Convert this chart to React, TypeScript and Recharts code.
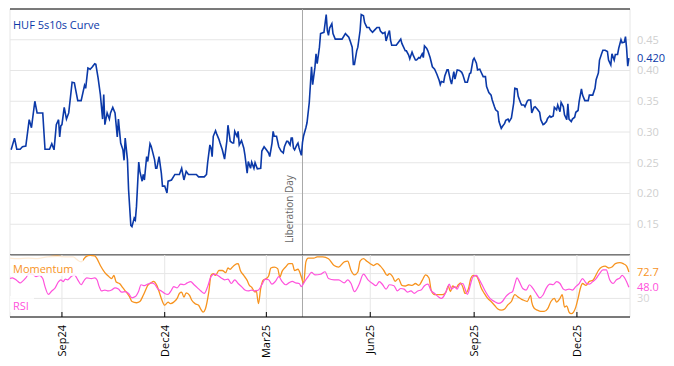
import React from 'react';
import { LineChart, Line, XAxis, YAxis, CartesianGrid, ReferenceLine } from 'recharts';

// day 0 of the series
const START = '2024-07-17';
const tickDates = ['2024-09-01', '2024-12-01', '2025-03-01', '2025-06-01', '2025-09-01', '2025-12-01'];
const tickLabels = ['Sep24', 'Dec24', 'Mar25', 'Jun25', 'Sep25', 'Dec25'];
const eventDate = '2025-04-02';
const eventLabel = 'Liberation Day';
const curveTicks = [0.15, 0.2, 0.25, 0.3, 0.35, 0.4, 0.45];
const oscTicks = [30, 70];

// [day, value]
const curve: [number, number][] = [
  [1, 0.271], [4, 0.29], [6, 0.272], [9, 0.272], [11, 0.276], [14, 0.277], [17, 0.32], [19, 0.307], [22, 0.35], [24, 0.331],
  [29, 0.331], [31, 0.272], [35, 0.272], [37, 0.281], [39, 0.271], [41, 0.312], [43, 0.32], [44, 0.292], [45, 0.31], [46, 0.312],
  [48, 0.34], [50, 0.321], [52, 0.331], [55, 0.381], [57, 0.38], [58, 0.37], [60, 0.351], [63, 0.351], [66, 0.376], [67, 0.371],
  [69, 0.404], [71, 0.402], [73, 0.406], [75, 0.411], [76, 0.41], [78, 0.388], [80, 0.361], [82, 0.321], [83, 0.361], [84, 0.312],
  [86, 0.331], [88, 0.321], [89, 0.331], [91, 0.34], [93, 0.331], [95, 0.292], [96, 0.321], [98, 0.282], [100, 0.271], [101, 0.254],
  [102, 0.29], [104, 0.255], [105, 0.206], [107, 0.148], [108, 0.146], [110, 0.16], [111, 0.157], [112, 0.179], [114, 0.251], [115, 0.236],
  [117, 0.22], [118, 0.231], [119, 0.222], [121, 0.26], [122, 0.252], [124, 0.281], [125, 0.277], [128, 0.255], [129, 0.241], [130, 0.241],
  [132, 0.26], [134, 0.233], [135, 0.212], [137, 0.212], [139, 0.201], [140, 0.22], [143, 0.222], [146, 0.231], [150, 0.231], [152, 0.241],
  [154, 0.222], [156, 0.236], [158, 0.231], [161, 0.231], [165, 0.231], [167, 0.227], [172, 0.227], [174, 0.231], [175, 0.25], [177, 0.279],
  [178, 0.274], [179, 0.26], [180, 0.293], [182, 0.302], [183, 0.297], [185, 0.288], [186, 0.282], [188, 0.271], [190, 0.256], [192, 0.285],
  [193, 0.311], [195, 0.285], [197, 0.282], [198, 0.282], [199, 0.301], [201, 0.293], [202, 0.301], [203, 0.279], [205, 0.286], [207, 0.274],
  [208, 0.263], [210, 0.233], [211, 0.252], [213, 0.241], [214, 0.251], [216, 0.241], [217, 0.25], [219, 0.24], [222, 0.241], [223, 0.269],
  [225, 0.276], [227, 0.271], [229, 0.266], [230, 0.26], [232, 0.282], [233, 0.301], [234, 0.293], [236, 0.293], [238, 0.276], [240, 0.269],
  [242, 0.266], [243, 0.276], [245, 0.285], [246, 0.285], [248, 0.279], [249, 0.29], [250, 0.29], [251, 0.274], [252, 0.271], [254, 0.279],
  [255, 0.282], [256, 0.274], [258, 0.262], [259, 0.283], [260, 0.294], [262, 0.307], [263, 0.315], [265, 0.348], [267, 0.406], [268, 0.377],
  [270, 0.405], [271, 0.427], [272, 0.411], [274, 0.438], [275, 0.46], [278, 0.462], [280, 0.491], [281, 0.465], [282, 0.457], [283, 0.469],
  [285, 0.476], [286, 0.46], [288, 0.451], [291, 0.451], [294, 0.451], [297, 0.46], [300, 0.454], [301, 0.449], [303, 0.438], [304, 0.41],
  [305, 0.41], [307, 0.432], [308, 0.438], [310, 0.465], [311, 0.491], [313, 0.489], [314, 0.478], [316, 0.47], [318, 0.47], [319, 0.466],
  [321, 0.462], [323, 0.466], [325, 0.47], [327, 0.47], [328, 0.464], [330, 0.46], [332, 0.462], [333, 0.448], [335, 0.46], [336, 0.465],
  [337, 0.449], [338, 0.441], [340, 0.441], [342, 0.441], [344, 0.446], [346, 0.451], [347, 0.444], [348, 0.44], [350, 0.432], [351, 0.432],
  [353, 0.425], [354, 0.419], [356, 0.43], [357, 0.425], [359, 0.417], [360, 0.417], [362, 0.421], [363, 0.42], [365, 0.427], [366, 0.421],
  [367, 0.44], [369, 0.436], [370, 0.432], [372, 0.421], [374, 0.406], [376, 0.402], [378, 0.394], [380, 0.384], [381, 0.377], [382, 0.382],
  [384, 0.381], [385, 0.391], [387, 0.401], [388, 0.401], [390, 0.384], [391, 0.378], [393, 0.398], [394, 0.386], [396, 0.401], [398, 0.4],
  [400, 0.397], [401, 0.393], [403, 0.381], [405, 0.381], [407, 0.395], [408, 0.396], [410, 0.417], [411, 0.42], [413, 0.412], [414, 0.401],
  [416, 0.402], [417, 0.398], [419, 0.39], [421, 0.39], [422, 0.374], [424, 0.364], [426, 0.36], [427, 0.352], [429, 0.341], [430, 0.336],
  [432, 0.333], [433, 0.317], [435, 0.306], [436, 0.309], [438, 0.314], [439, 0.319], [441, 0.321], [442, 0.317], [444, 0.323], [446, 0.347],
  [447, 0.371], [449, 0.37], [450, 0.358], [452, 0.348], [453, 0.344], [455, 0.344], [456, 0.341], [458, 0.35], [459, 0.352], [461, 0.352],
  [462, 0.331], [464, 0.34], [465, 0.341], [467, 0.337], [469, 0.332], [470, 0.32], [472, 0.312], [473, 0.313], [475, 0.317], [476, 0.322],
  [478, 0.326], [479, 0.324], [481, 0.326], [482, 0.34], [484, 0.336], [485, 0.344], [487, 0.333], [488, 0.348], [490, 0.341], [491, 0.328],
  [493, 0.32], [494, 0.346], [495, 0.321], [497, 0.317], [498, 0.321], [500, 0.324], [501, 0.332], [503, 0.335], [504, 0.35], [506, 0.37],
  [507, 0.36], [509, 0.351], [510, 0.351], [512, 0.351], [513, 0.36], [515, 0.36], [516, 0.36], [518, 0.371], [519, 0.385], [521, 0.396],
  [522, 0.417], [524, 0.428], [525, 0.433], [527, 0.433], [529, 0.431], [530, 0.417], [532, 0.409], [533, 0.427], [535, 0.417], [536, 0.426],
  [538, 0.426], [539, 0.436], [541, 0.45], [542, 0.445], [544, 0.446], [545, 0.455], [546, 0.436], [547, 0.407], [548, 0.42],
];

const momentum: [number, number][] = [
  [0, 95], [7, 94], [16, 95], [24, 94], [33, 97], [42, 98], [50, 97], [56, 97], [59, 93], [63, 89], [67, 97], [71, 99.5], [75, 98.4],
  [77, 94], [80, 83], [84, 71.5], [87, 66], [90, 62], [92, 67], [94, 56.5], [97, 54], [100, 47], [103, 40], [106, 32], [108, 25],
  [112, 23], [115, 25], [118, 35], [120, 43], [122, 51], [125, 55], [127, 57.5], [130, 51], [132, 41], [134, 30], [137, 19], [140, 24],
  [142, 21.5], [145, 24], [148, 30], [150, 38], [152, 40], [154, 32], [156, 39], [159, 35], [161, 27], [164, 21.5], [167, 19], [169, 12.4],
  [171, 8], [173, 13], [176, 40], [178, 67], [180, 70], [182, 67], [185, 75], [188, 75], [191, 71.5], [193, 79], [195, 77], [197, 80.6],
  [199, 84], [202, 86], [204, 75], [207, 67], [210, 59], [212, 51], [214, 48], [217, 40], [218, 43], [220, 21.5], [222, 46], [224, 59],
  [227, 62], [229, 66], [231, 79], [234, 80.6], [237, 78], [239, 64.5], [241, 74], [244, 80.6], [247, 86], [250, 86], [252, 75], [255, 77],
  [258, 64.5], [260, 54], [262, 89], [264, 95], [269, 95], [272, 97], [277, 97], [282, 94], [287, 83], [291, 80.6], [296, 89], [299, 90],
  [302, 75], [305, 68], [308, 72.6], [310, 90], [313, 94], [316, 90], [319, 86], [322, 83], [325, 86], [328, 82], [331, 75], [334, 67],
  [336, 70], [339, 64.5], [341, 57.5], [344, 62], [347, 51], [350, 50], [353, 52], [356, 51], [359, 54], [362, 51], [365, 59], [368, 68],
  [371, 63], [373, 43], [376, 36], [380, 36], [383, 36], [386, 40], [388, 50], [390, 41], [392, 50], [395, 47], [397, 52], [399, 55],
  [401, 48], [403, 38], [406, 46], [408, 62], [410, 67], [413, 66], [415, 59], [417, 48], [420, 38], [423, 30], [426, 25], [429, 19],
  [432, 13], [435, 11], [438, 13], [441, 20], [444, 25], [447, 36], [450, 32], [453, 28.5], [455, 27], [458, 25], [461, 35], [462, 24],
  [464, 14.5], [467, 11], [470, 9], [473, 9], [476, 13], [479, 25], [482, 30], [484, 24], [487, 30], [489, 36], [491, 16], [493, 18],
  [495, 8], [497, 5.4], [499, 8], [501, 16], [503, 30], [505, 46], [507, 54], [510, 51], [513, 57.5], [516, 59], [518, 64.5], [521, 75],
  [524, 80.6], [527, 82], [530, 79], [533, 80.6], [536, 86], [540, 87.6], [543, 86], [546, 82], [548, 72.7],
];

const rsi: [number, number][] = [
  [0, 62], [2, 63], [6, 59], [9, 55], [11, 57.5], [14, 63], [17, 70], [20, 69], [23, 65], [26, 67], [29, 62], [31, 49], [34, 36.5],
  [37, 42], [40, 47], [43, 57], [45, 60], [47, 57], [49, 61], [51, 60], [54, 65], [57, 68], [60, 60], [63, 52], [66, 60], [68, 63],
  [72, 62], [75, 63], [77, 60], [79, 49], [81, 42], [84, 43.5], [87, 42], [90, 43.5], [93, 47], [96, 45], [99, 40], [102, 41], [105, 38],
  [108, 31], [111, 33], [114, 42], [116, 52], [119, 50.5], [122, 53], [125, 55], [128, 53], [131, 45], [134, 42], [137, 38], [140, 36.5],
  [143, 43.5], [145, 49], [148, 47], [151, 53], [154, 52], [157, 55], [160, 57], [163, 52], [166, 47], [169, 42], [172, 38], [175, 49],
  [178, 65], [181, 69], [184, 67], [187, 63], [190, 60], [193, 61], [196, 54], [199, 60], [202, 54], [205, 49], [208, 43.5], [211, 42],
  [214, 43.5], [217, 42], [220, 43.5], [223, 52], [226, 61], [229, 60], [232, 53], [235, 57.5], [238, 65], [241, 57], [244, 52], [247, 55],
  [250, 57.5], [253, 55], [256, 54], [258, 49], [261, 57.5], [264, 65], [267, 72], [270, 68], [275, 69], [279, 73], [282, 62], [287, 60],
  [291, 60], [296, 55], [299, 60], [302, 54], [305, 41], [309, 52], [313, 69], [317, 60], [321, 54], [324, 50.5], [327, 57], [330, 52],
  [333, 45], [336, 52], [340, 50.5], [343, 42], [346, 46], [349, 45], [352, 40], [355, 42], [358, 38], [361, 42], [364, 43.5], [367, 50.5],
  [370, 53], [373, 42], [376, 38], [379, 33], [382, 30], [385, 36.5], [387, 45], [389, 53], [391, 45], [394, 49], [396, 45], [398, 52],
  [401, 54], [403, 45], [405, 36.5], [408, 54], [410, 65], [413, 67], [415, 62], [418, 52], [421, 41], [425, 30], [429, 25], [433, 22],
  [436, 25], [439, 33], [442, 38], [445, 41], [447, 53], [449, 63], [451, 57], [454, 46], [457, 43.5], [460, 52], [463, 46], [466, 38],
  [469, 31], [472, 35.5], [475, 47], [478, 53], [481, 52], [484, 57], [487, 54], [490, 45], [492, 43.5], [495, 45], [498, 43.5], [501, 49],
  [504, 54], [507, 62], [510, 55], [513, 53], [516, 57], [519, 62], [522, 70], [525, 76], [528, 76], [531, 60], [534, 54], [537, 60],
  [540, 63], [542, 67], [546, 57], [548, 48],
];

const dayOf = (s: string) => Math.round((Date.parse(s) - Date.parse(START)) / 86400000);
const xTicks = tickDates.map(dayOf);
const eventDay = dayOf(eventDate);
const X_MAX = 549;

const toRows = (arr: [number, number][]) => arr.map(([d, v]) => ({ d, v }));
const curveData = toRows(curve);
const momData = toRows(momentum);
const rsiData = toRows(rsi);
const lastCurve = curve[curve.length - 1][1];
const lastMom = momentum[momentum.length - 1][1];
const lastRsi = rsi[rsi.length - 1][1];

const BLUE = '#0b39a8';
const ORANGE = '#f7931e';
const PINK = '#ff52dc';
const GRID = '#e6e6e6';
const FONT = "'Open Sans', sans-serif";

const DateTick = (props: any) => {
  const { x, y, payload } = props;
  const label = tickLabels[xTicks.indexOf(payload.value)];
  return (
    <text x={x} y={y} transform={`rotate(-90 ${x} ${y})`} textAnchor="end" dy="0.35em" fontSize={11} fill="#000">
      {label}
    </text>
  );
};

const EventLabel = (props: any) => {
  const { viewBox } = props;
  const x = viewBox.x - 9.5;
  const y = viewBox.y + viewBox.height - 12;
  return (
    <text x={x} y={y} transform={`rotate(-90 ${x} ${y})`} fontSize={10} fill="#666">
      {eventLabel}
    </text>
  );
};

const boxLabel = (top: number, left: number, w: number, h: number, color: string, text: string, pad: number) => (
  <div
    style={{
      position: 'absolute', left, top, width: w, height: h,
      background: 'rgba(255,255,255,0.82)',
    }}
  >
    <div style={{ position: 'absolute', left: 3, top: pad, fontSize: 11, lineHeight: '11px', color, whiteSpace: 'nowrap' }}>{text}</div>
  </div>
);

export default function App() {
  return (
    <div style={{ position: 'absolute', left: 0, top: 0, width: 674, height: 366, background: '#fff', fontFamily: FONT }}>
      {/* curve panel */}
      <div style={{ position: 'absolute', left: 0, top: 0 }}>
        <LineChart width={674} height={256} data={curveData} margin={{ top: 9, right: 0, bottom: 0, left: 10 }}>
          <CartesianGrid stroke={GRID} />
          <XAxis
            dataKey="d" type="number" domain={[0, X_MAX]} ticks={xTicks} interval={0}
            tick={false} tickSize={-5} height={1}
            axisLine={{ stroke: '#000' }} tickLine={{ stroke: '#000' }}
          />
          <YAxis
            orientation="right" domain={[0.1, 0.5]} ticks={curveTicks} width={44}
            axisLine={false} tickLine={false} tickSize={0} tickMargin={7}
            tick={{ fill: '#cfcfcf', fontSize: 11 }} tickFormatter={(v: number) => v.toFixed(2)}
          />
          <ReferenceLine y={0.5} stroke="#000" />
          <ReferenceLine x={eventDay} stroke="#a8a8a8" label={<EventLabel />} />
          <ReferenceLine
            y={lastCurve} stroke="none"
            label={{ value: lastCurve.toFixed(3), position: 'right', offset: 7, fill: BLUE, fontSize: 11 }}
          />
          <Line type="linear" dataKey="v" stroke={BLUE} strokeWidth={1.6} dot={false} isAnimationActive={false} />
        </LineChart>
      </div>

      {/* oscillator panel */}
      <div style={{ position: 'absolute', left: 0, top: 255 }}>
        <LineChart width={674} height={111} margin={{ top: 0, right: 0, bottom: 0, left: 10 }}>
          <CartesianGrid stroke={GRID} />
          <XAxis
            dataKey="d" type="number" domain={[0, X_MAX]} ticks={xTicks} interval={0}
            tick={<DateTick />} tickSize={-5} tickMargin={13} height={49}
            axisLine={{ stroke: '#000' }} tickLine={{ stroke: '#000' }}
          />
          <YAxis
            orientation="right" domain={[0, 100]} ticks={oscTicks} width={44}
            axisLine={false} tickLine={false} tickSize={0} tickMargin={7}
            tick={{ fill: '#d6d6d6', fontSize: 11 }} tickFormatter={(v: number) => (v === 30 ? '30' : '')}
          />
          <ReferenceLine x={eventDay} stroke="#a8a8a8" />
          <ReferenceLine
            y={lastMom} stroke="none"
            label={{ value: lastMom.toFixed(1), position: 'right', offset: 7, fill: ORANGE, fontSize: 11 }}
          />
          <ReferenceLine
            y={lastRsi} stroke="none"
            label={{ value: lastRsi.toFixed(1), position: 'right', offset: 7, fill: PINK, fontSize: 11 }}
          />
          <Line data={momData} type="monotone" dataKey="v" stroke={ORANGE} strokeWidth={1.3} dot={false} isAnimationActive={false} />
          <Line data={rsiData} type="monotone" dataKey="v" stroke={PINK} strokeWidth={1.2} dot={false} isAnimationActive={false} />
        </LineChart>
      </div>

      <div style={{ position: 'absolute', left: 13, top: 19, fontSize: 11, lineHeight: '11px', color: BLUE }}>HUF 5s10s Curve</div>
      {boxLabel(256, 10, 73, 20, ORANGE, 'Momentum', 7)}
      {boxLabel(296, 10, 24, 16, PINK, 'RSI', 4)}
    </div>
  );
}
